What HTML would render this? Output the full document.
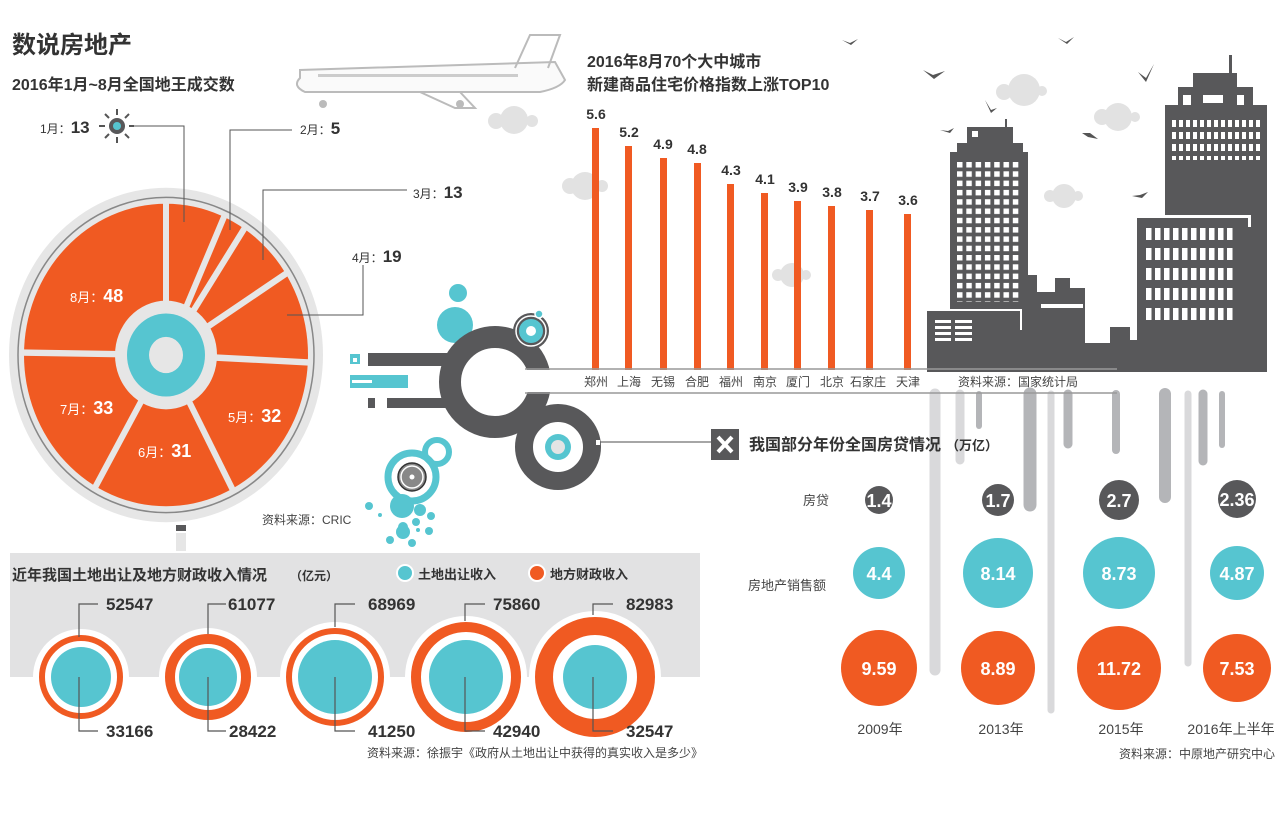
<!DOCTYPE html>
<html><head><meta charset="utf-8"><style>
body{margin:0;background:#fff}
svg{display:block}
text{font-family:"Liberation Sans","Noto Sans CJK SC",sans-serif}
.b{font-weight:bold}
</style></head><body>
<svg width="1285" height="814" viewBox="0 0 1285 814" xmlns="http://www.w3.org/2000/svg">
<defs>
<pattern id="w1" x="957" y="162" width="9.3" height="9.3" patternUnits="userSpaceOnUse"><rect width="5.5" height="5.5" fill="#fff"/></pattern>
<pattern id="w2" x="1146" y="228" width="9" height="20" patternUnits="userSpaceOnUse"><rect width="5.5" height="12" fill="#fff"/></pattern>
<pattern id="w3" x="1172" y="120" width="7" height="12" patternUnits="userSpaceOnUse"><rect width="4" height="7" fill="#fff"/></pattern>
</defs>

<text x="12" y="53" font-size="24" class="b" fill="#333">数说房地产</text>
<text x="12" y="90" font-size="16" class="b" fill="#333">2016年1月~8月全国地王成交数</text>

<g fill="none" stroke="#bbb" stroke-width="2">
<path d="M300 78 Q292 86 305 92 L540 92 Q560 88 565 80 L555 62 L300 70 Z" fill="#fafafa"/>
<path d="M515 68 L530 35 L560 35 L548 68"/>
<path d="M420 92 L455 108 L475 108 L460 92"/>
</g>
<rect x="318" y="74" width="200" height="3" fill="#ccc"/>
<circle cx="323" cy="104" r="4" fill="#bbb"/><circle cx="460" cy="104" r="4" fill="#bbb"/>
<g fill="#e2e2e2">
<circle cx="514" cy="120" r="14"/><circle cx="496" cy="121" r="8"/><circle cx="532" cy="121" r="6"/>
<circle cx="585" cy="186" r="14"/><circle cx="570" cy="186" r="8"/><circle cx="602" cy="186" r="6"/>
<circle cx="1024" cy="90" r="16"/><circle cx="1004" cy="92" r="8"/><circle cx="1042" cy="91" r="5"/>
<circle cx="1118" cy="117" r="14"/><circle cx="1102" cy="117" r="8"/><circle cx="1135" cy="117" r="5"/>
<circle cx="1064" cy="196" r="12"/><circle cx="1050" cy="196" r="6"/><circle cx="1078" cy="196" r="5"/>
<circle cx="792" cy="275" r="12"/><circle cx="778" cy="275" r="6"/><circle cx="806" cy="275" r="5"/>
</g>
<g fill="#555">
<path d="M842 40 l8 3 l8 -4 l-7 6 z"/><path d="M1058 38 l8 4 l8 -5 l-7 7 z"/>
<path d="M923 70 l10 5 l12 -4 l-11 8 z"/><path d="M985 100 l6 10 l6 -2 l-6 5 z"/>
<path d="M940 130 l8 1 l6 -3 l-4 5 z"/><path d="M1082 133 l8 0 l8 6 l-10 -2 z"/>
<path d="M1138 72 l8 6 l8 -14 l-8 18 z"/><path d="M1132 196 l8 -1 l8 -3 l-6 6 z"/>
</g>

<text x="587" y="67" font-size="16" class="b" fill="#333">2016年8月70个大中城市</text>
<text x="587" y="90" font-size="16" class="b" fill="#333">新建商品住宅价格指数上涨TOP10</text>
<g fill="#f05a22">
<rect x="592" y="128" width="7" height="242"/><rect x="625" y="146" width="7" height="224"/>
<rect x="660" y="158" width="7" height="212"/><rect x="694" y="163" width="7" height="207"/>
<rect x="727" y="184" width="7" height="186"/><rect x="761" y="193" width="7" height="177"/>
<rect x="794" y="201" width="7" height="169"/><rect x="828" y="206" width="7" height="164"/>
<rect x="866" y="210" width="7" height="160"/><rect x="904" y="214" width="7" height="156"/>
</g>
<g font-size="14" class="b" fill="#333" text-anchor="middle">
<text x="596" y="119">5.6</text><text x="629" y="137">5.2</text><text x="663" y="149">4.9</text>
<text x="697" y="154">4.8</text><text x="731" y="175">4.3</text><text x="765" y="184">4.1</text>
<text x="798" y="192">3.9</text><text x="832" y="197">3.8</text><text x="870" y="201">3.7</text><text x="908" y="205">3.6</text>
</g>

<g fill="#58585a">
<rect x="1005" y="119" width="2" height="10"/>
<rect x="967" y="127" width="46" height="18"/>
<rect x="957" y="143" width="66" height="12"/>
<rect x="950" y="152" width="78" height="160"/>
<rect x="927" y="310" width="93" height="62"/>
<rect x="1020" y="275" width="17" height="97"/>
<rect x="1037" y="292" width="18" height="80"/>
<rect x="1055" y="278" width="15" height="94"/>
<rect x="1070" y="288" width="15" height="84"/>
<rect x="1085" y="343" width="25" height="29"/>
<rect x="1110" y="327" width="20" height="45"/>
<rect x="1128" y="340" width="10" height="32"/>
<rect x="1229" y="55" width="3" height="20"/>
<rect x="1193" y="73" width="44" height="16"/>
<rect x="1178" y="87" width="75" height="20"/>
<rect x="1165" y="105" width="102" height="267"/>
<rect x="1137" y="218" width="111" height="154"/>
</g>
<rect x="1137" y="215" width="114" height="3" fill="#fff"/>
<rect x="1248" y="215" width="3" height="12" fill="#fff"/>
<rect x="1020" y="310" width="2" height="20" fill="#fff"/>
<rect x="927" y="309" width="95" height="2" fill="#fff"/>
<rect x="957" y="162" width="65" height="140" fill="url(#w1)"/>
<rect x="1172" y="120" width="88" height="40" fill="url(#w3)"/>
<rect x="1146" y="228" width="90" height="100" fill="url(#w2)"/>
<rect x="972" y="131" width="6" height="6" fill="#fff"/>
<rect x="1183" y="95" width="8" height="10" fill="#fff"/><rect x="1203" y="95" width="20" height="8" fill="#fff"/><rect x="1237" y="95" width="7" height="10" fill="#fff"/>
<g fill="#fff"><rect x="935" y="320" width="16" height="3"/><rect x="935" y="326" width="16" height="3"/><rect x="935" y="332" width="16" height="3"/><rect x="935" y="338" width="16" height="3"/><rect x="955" y="320" width="17" height="3"/><rect x="955" y="326" width="17" height="3"/><rect x="955" y="332" width="17" height="3"/><rect x="955" y="338" width="17" height="3"/>
<rect x="1041" y="304" width="42" height="4"/></g>

<g stroke-linecap="round">
<line x1="935" y1="394" x2="935" y2="670" stroke="#d9d9db" stroke-width="11"/>
<line x1="960" y1="394" x2="960" y2="460" stroke="#d9d9db" stroke-width="9"/>
<line x1="979" y1="394" x2="979" y2="426" stroke="#b4b5b8" stroke-width="6"/>
<line x1="1030" y1="394" x2="1030" y2="505" stroke="#b4b5b8" stroke-width="13"/>
<line x1="1051" y1="394" x2="1051" y2="710" stroke="#d9d9db" stroke-width="7"/>
<line x1="1068" y1="394" x2="1068" y2="444" stroke="#b4b5b8" stroke-width="9"/>
<line x1="1116" y1="394" x2="1116" y2="450" stroke="#b4b5b8" stroke-width="8"/>
<line x1="1165" y1="394" x2="1165" y2="497" stroke="#b4b5b8" stroke-width="12"/>
<line x1="1188" y1="394" x2="1188" y2="663" stroke="#d9d9db" stroke-width="7"/>
<line x1="1203" y1="394" x2="1203" y2="461" stroke="#b4b5b8" stroke-width="9"/>
<line x1="1222" y1="394" x2="1222" y2="445" stroke="#b4b5b8" stroke-width="6"/>
</g>

<line x1="598" y1="442" x2="712" y2="442" stroke="#888" stroke-width="1.5"/>
<rect x="711" y="429" width="28" height="31" fill="#58585a"/>
<path d="M718 437 L732 452 M732 437 L718 452" stroke="#fff" stroke-width="4"/>
<text x="749" y="450" font-size="16" class="b" fill="#333">我国部分年份全国房贷情况</text>
<text x="946" y="450" font-size="13" class="b" fill="#333">（万亿）</text>
<text x="803" y="505" font-size="13" fill="#444">房贷</text>
<text x="748" y="590" font-size="13" fill="#444">房地产销售额</text>
<g fill="#58585a"><circle cx="879" cy="500" r="14"/><circle cx="998" cy="500" r="16"/><circle cx="1119" cy="500" r="20"/><circle cx="1237" cy="499" r="19"/></g>
<g fill="#56c5d0"><circle cx="879" cy="573" r="26"/><circle cx="998" cy="573" r="35"/><circle cx="1119" cy="573" r="36"/><circle cx="1237" cy="573" r="27"/></g>
<g fill="#f05a22"><circle cx="879" cy="668" r="38"/><circle cx="998" cy="668" r="37"/><circle cx="1119" cy="668" r="42"/><circle cx="1237" cy="668" r="34"/></g>
<g fill="#fff" class="b" text-anchor="middle">
<text x="879" y="507" font-size="18">1.4</text><text x="998" y="507" font-size="18">1.7</text><text x="1119" y="507" font-size="18">2.7</text><text x="1237" y="506" font-size="18">2.36</text>
<text x="879" y="580" font-size="18">4.4</text><text x="998" y="580" font-size="18">8.14</text><text x="1119" y="580" font-size="18">8.73</text><text x="1237" y="580" font-size="18">4.87</text>
<text x="879" y="675" font-size="18">9.59</text><text x="998" y="675" font-size="18">8.89</text><text x="1119" y="675" font-size="18">11.72</text><text x="1237" y="675" font-size="18">7.53</text>
</g>
<g font-size="14" fill="#444" text-anchor="middle">
<text x="880" y="734">2009年</text><text x="1001" y="734">2013年</text><text x="1121" y="734">2015年</text><text x="1231" y="734">2016年上半年</text>
</g>
<text x="1275" y="758" font-size="12" fill="#444" text-anchor="end">资料来源：中原地产研究中心</text>

<!-- middle decoration -->
<circle cx="458" cy="293" r="9" fill="#56c5d0"/>
<circle cx="455" cy="325" r="18" fill="#56c5d0"/>
<circle cx="495" cy="382" r="45" fill="none" stroke="#58585a" stroke-width="22"/>
<circle cx="558" cy="447" r="34" fill="none" stroke="#58585a" stroke-width="18"/>
<circle cx="558" cy="447" r="13" fill="#56c5d0"/><circle cx="558" cy="447" r="7" fill="#e4e4e4"/>
<rect x="596" y="440" width="4" height="5" fill="#fff"/>
<circle cx="531" cy="331" r="18" fill="#58585a"/><circle cx="531" cy="331" r="15" fill="none" stroke="#fff" stroke-width="1.5"/>
<circle cx="531" cy="331" r="12" fill="#56c5d0"/><circle cx="531" cy="331" r="5" fill="#fff"/><circle cx="539" cy="314" r="4" fill="#56c5d0" stroke="#fff" stroke-width="1.5"/>
<rect x="524" y="370" width="30" height="22" fill="#fff"/>
<line x1="525" y1="369" x2="1117" y2="369" stroke="#999" stroke-width="1.5"/>
<line x1="525" y1="393" x2="1117" y2="393" stroke="#999" stroke-width="1.5"/>
<g font-size="12" fill="#444" text-anchor="middle">
<text x="596" y="386">郑州</text><text x="629" y="386">上海</text><text x="663" y="386">无锡</text><text x="697" y="386">合肥</text>
<text x="731" y="386">福州</text><text x="765" y="386">南京</text><text x="798" y="386">厦门</text><text x="832" y="386">北京</text>
<text x="868" y="386">石家庄</text><text x="908" y="386">天津</text>
</g>
<text x="958" y="386" font-size="12" fill="#444">资料来源：国家统计局</text>
<rect x="368" y="353" width="80" height="13" fill="#58585a"/>
<rect x="350" y="354" width="10" height="10" fill="#56c5d0"/><rect x="353" y="358" width="4" height="4" fill="#fff"/>
<rect x="350" y="375" width="58" height="13" fill="#56c5d0"/><rect x="352" y="380" width="20" height="3" fill="#fff"/>
<rect x="368" y="398" width="7" height="10" fill="#58585a"/><rect x="387" y="398" width="65" height="10" fill="#58585a"/>
<circle cx="412" cy="477" r="24" fill="none" stroke="#56c5d0" stroke-width="7"/>
<circle cx="412" cy="477" r="14" fill="#888" stroke="#333" stroke-width="1.5"/><circle cx="412" cy="477" r="11" fill="#888" stroke="#fff" stroke-width="1.5"/><circle cx="412" cy="477" r="2.5" fill="#fff"/>
<circle cx="437" cy="452" r="12" fill="none" stroke="#56c5d0" stroke-width="6"/>
<g fill="#56c5d0"><circle cx="402" cy="506" r="12"/><circle cx="420" cy="510" r="6"/><circle cx="431" cy="516" r="4"/><circle cx="369" cy="506" r="4"/><circle cx="403" cy="527" r="5"/><circle cx="416" cy="522" r="4"/><circle cx="429" cy="531" r="4"/><circle cx="403" cy="532" r="7"/><circle cx="390" cy="540" r="4"/><circle cx="412" cy="543" r="4"/><circle cx="418" cy="530" r="2"/><circle cx="380" cy="515" r="2"/></g>

<!-- pie -->
<g transform="translate(166 355) scale(1 1.065)">
<circle r="157" fill="#e6e6e6"/>
<circle r="148" fill="none" stroke="#888" stroke-width="1.5"/>
<circle r="142" fill="#f05a22"/>
<g stroke="#e6e6e6" stroke-width="6">
<line x1="0" y1="0" x2="0" y2="-145" transform="rotate(0)"/>
<line x1="0" y1="0" x2="0" y2="-145" transform="rotate(24.1)"/>
<line x1="0" y1="0" x2="0" y2="-145" transform="rotate(33.4)"/>
<line x1="0" y1="0" x2="0" y2="-145" transform="rotate(57.5)"/>
<line x1="0" y1="0" x2="0" y2="-145" transform="rotate(92.8)"/>
<line x1="0" y1="0" x2="0" y2="-145" transform="rotate(152.2)"/>
<line x1="0" y1="0" x2="0" y2="-145" transform="rotate(209.7)"/>
<line x1="0" y1="0" x2="0" y2="-145" transform="rotate(270.9)"/>
</g>
<circle r="51" fill="#e6e6e6"/>
<circle r="39" fill="#56c5d0"/>
<circle r="17" fill="#e6e6e6"/>
</g>
<g fill="#fff">
<text x="70" y="302" font-size="13">8月：<tspan font-size="18" class="b">48</tspan></text>
<text x="60" y="414" font-size="13">7月：<tspan font-size="18" class="b">33</tspan></text>
<text x="138" y="457" font-size="13">6月：<tspan font-size="18" class="b">31</tspan></text>
<text x="228" y="422" font-size="13">5月：<tspan font-size="18" class="b">32</tspan></text>
</g>
<g fill="none" stroke="#555" stroke-width="1">
<path d="M130 126 H184 V222"/>
<path d="M292 130 H230 V230"/>
<path d="M407 190 H263 V260"/>
<path d="M363 265 V315 H287"/>
</g>
<g fill="#333">
<text x="40" y="133" font-size="12">1月：<tspan font-size="17" class="b">13</tspan></text>
<text x="300" y="134" font-size="12">2月：<tspan font-size="17" class="b">5</tspan></text>
<text x="413" y="198" font-size="12">3月：<tspan font-size="17" class="b">13</tspan></text>
<text x="352" y="262" font-size="12">4月：<tspan font-size="17" class="b">19</tspan></text>
</g>
<g stroke="#555" stroke-width="2">
<line x1="117" y1="109" x2="117" y2="115"/><line x1="117" y1="137" x2="117" y2="143"/>
<line x1="99" y1="126" x2="105" y2="126"/><line x1="129" y1="126" x2="134" y2="126"/>
<line x1="105" y1="114" x2="109" y2="118"/><line x1="125" y1="134" x2="129" y2="138"/>
<line x1="105" y1="138" x2="109" y2="134"/><line x1="125" y1="118" x2="129" y2="114"/>
</g>
<circle cx="117" cy="126" r="8" fill="#58585a"/><circle cx="117" cy="126" r="4" fill="#56c5d0"/>
<text x="262" y="524" font-size="12" fill="#444">资料来源：CRIC</text>
<rect x="176" y="525" width="10" height="6" fill="#58585a"/>
<rect x="176" y="533" width="10" height="18" fill="#e6e6e6"/>

<rect x="10" y="553" width="690" height="124" fill="#e2e2e3"/>
<text x="12" y="580" font-size="15" class="b" fill="#333">近年我国土地出让及地方财政收入情况</text>
<text x="290" y="580" font-size="12" class="b" fill="#333">（亿元）</text>
<circle cx="405" cy="573" r="8" fill="#56c5d0" stroke="#fff" stroke-width="2"/>
<text x="418" y="579" font-size="13" class="b" fill="#333">土地出让收入</text>
<circle cx="537" cy="573" r="8" fill="#f05a22" stroke="#fff" stroke-width="2"/>
<text x="550" y="579" font-size="13" class="b" fill="#333">地方财政收入</text>
<g>
<circle cx="81" cy="677" r="48" fill="#fff"/><circle cx="81" cy="677" r="39" fill="none" stroke="#f05a22" stroke-width="6"/><circle cx="81" cy="677" r="30" fill="#56c5d0"/>
<circle cx="208" cy="677" r="49" fill="#fff"/><circle cx="208" cy="677" r="38" fill="none" stroke="#f05a22" stroke-width="10"/><circle cx="208" cy="677" r="29" fill="#56c5d0"/>
<circle cx="335" cy="677" r="55" fill="#fff"/><circle cx="335" cy="677" r="46" fill="none" stroke="#f05a22" stroke-width="6"/><circle cx="335" cy="677" r="37" fill="#56c5d0"/>
<circle cx="466" cy="677" r="61" fill="#fff"/><circle cx="466" cy="677" r="50" fill="none" stroke="#f05a22" stroke-width="10"/><circle cx="466" cy="677" r="37" fill="#56c5d0"/>
<circle cx="595" cy="677" r="66" fill="#fff"/><circle cx="595" cy="677" r="51" fill="none" stroke="#f05a22" stroke-width="18"/><circle cx="595" cy="677" r="32" fill="#56c5d0"/>
</g>
<g fill="none" stroke="#555" stroke-width="1.2">
<path d="M79 637 V604 H98"/><path d="M79 677 V731 H98"/>
<path d="M208 634 V604 H226"/><path d="M208 677 V731 H226"/>
<path d="M335 627 V604 H355"/><path d="M335 677 V731 H355"/>
<path d="M465 621 V604 H485"/><path d="M465 677 V731 H485"/>
<path d="M593 615 V604 H613"/><path d="M593 677 V731 H613"/>
</g>
<g font-size="17" class="b" fill="#333">
<text x="106" y="610">52547</text><text x="106" y="737">33166</text>
<text x="228" y="610">61077</text><text x="229" y="737">28422</text>
<text x="368" y="610">68969</text><text x="368" y="737">41250</text>
<text x="493" y="610">75860</text><text x="493" y="737">42940</text>
<text x="626" y="610">82983</text><text x="626" y="737">32547</text>
</g>
<text x="367" y="757" font-size="12" fill="#444">资料来源：徐振宇《政府从土地出让中获得的真实收入是多少》</text>
</svg>
</body></html>
